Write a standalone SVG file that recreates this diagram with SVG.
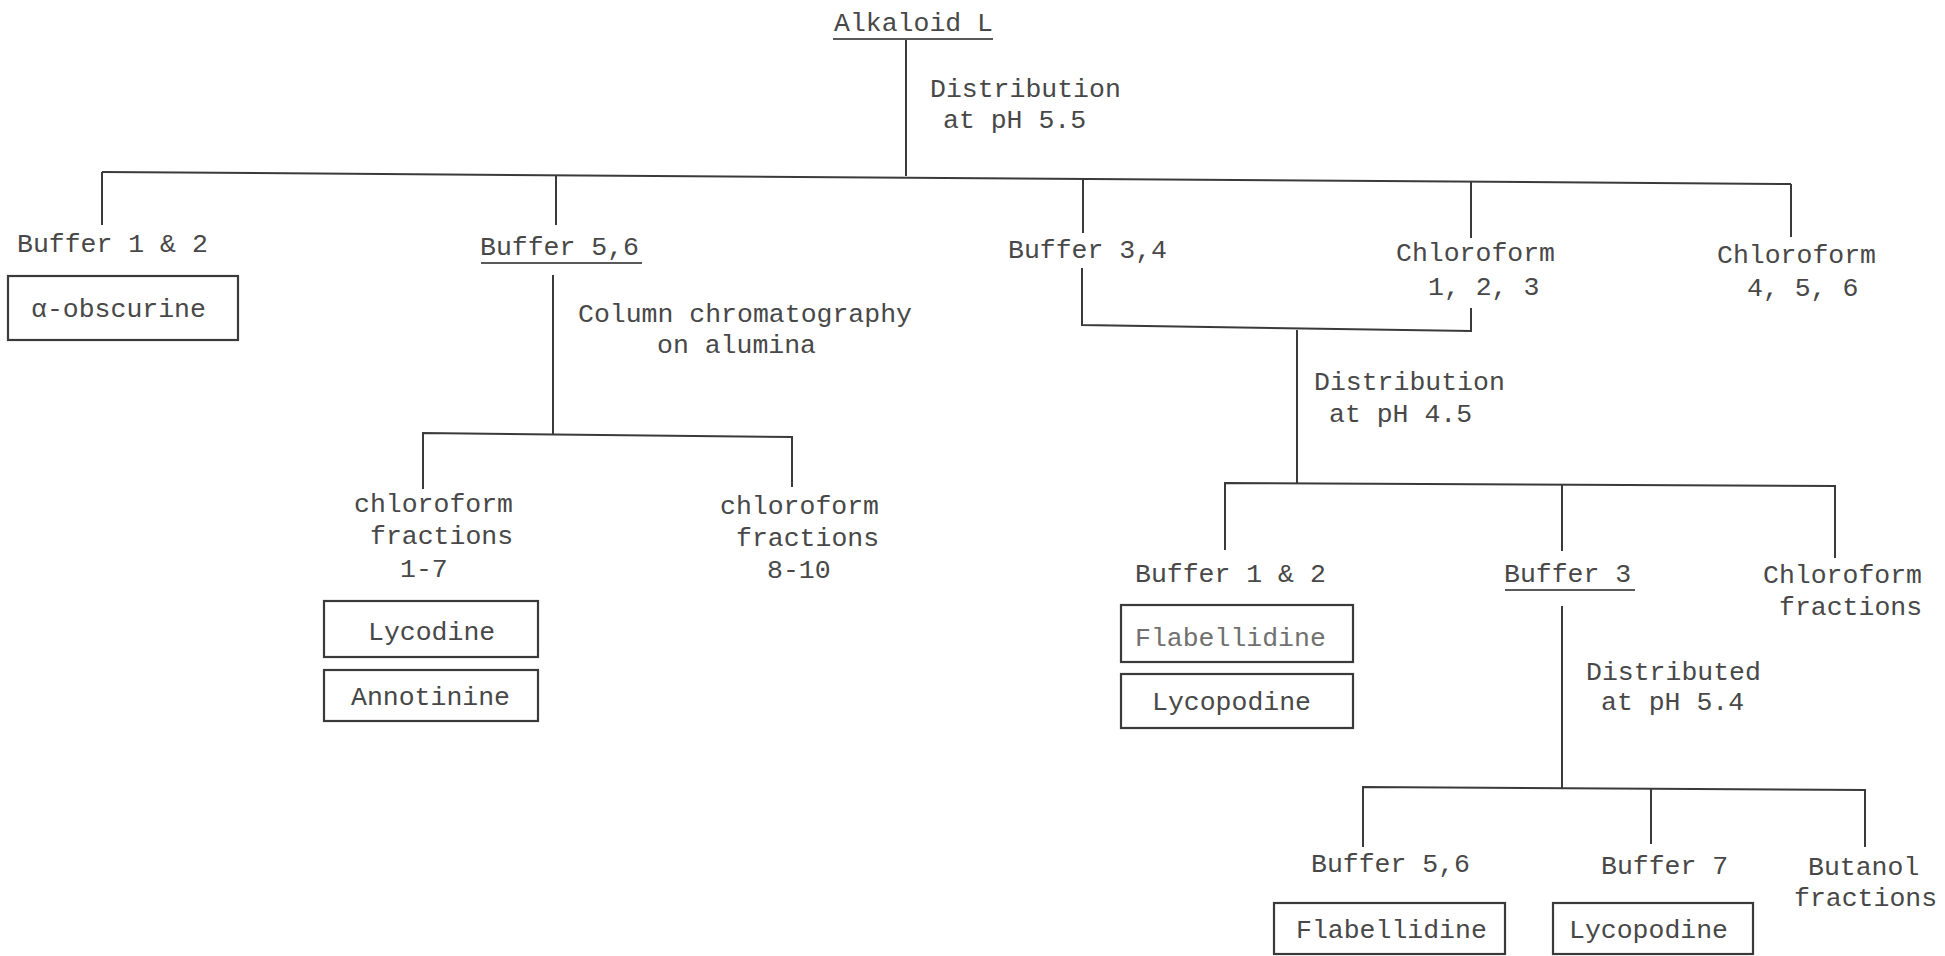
<svg xmlns="http://www.w3.org/2000/svg" width="1945" height="956" viewBox="0 0 1945 956">
<style>
  text { font-family: "Liberation Mono", "DejaVu Sans Mono", monospace; font-size: 26.5px; fill: #484848; }
  .ln { stroke: #3a3a3a; stroke-width: 2; fill: none; }
  .ul { stroke: #5a5a5a; stroke-width: 2.2; fill: none; }
  .box { stroke: #3a3a3a; stroke-width: 2.2; fill: none; }
  .light { fill: #707070; }
</style>
<rect width="1945" height="956" fill="#ffffff"/>
<g id="connectors">
  <path class="ln" d="M906,40 V176"/>
  <path class="ln" d="M102,172 L1791,184"/>
  <path class="ln" d="M102,172 V225"/>
  <path class="ln" d="M556,175 V225"/>
  <path class="ln" d="M1083,179 V233"/>
  <path class="ln" d="M1471,181 V238"/>
  <path class="ln" d="M1791,184 V237"/>
  <path class="ln" d="M553,275 V434"/>
  <path class="ln" d="M423,489 V433 L792,437 V487"/>
  <path class="ln" d="M1082,268 V325 L1471,331 V308"/>
  <path class="ln" d="M1297,330 V484"/>
  <path class="ln" d="M1225,550 V483 L1835,486 V558"/>
  <path class="ln" d="M1562,485 V551"/>
  <path class="ln" d="M1562,606 V789"/>
  <path class="ln" d="M1363,847 V787 L1865,790 V847"/>
  <path class="ln" d="M1651,789 V844"/>
</g>
<g id="alkaloid-l">
  <text x="834" y="31">Alkaloid L</text>
  <path class="ul" d="M833,39 H993"/>
</g>
<g id="label-ph55">
  <text x="930" y="97">Distribution</text>
  <text x="943" y="128">at pH 5.5</text>
</g>
<g id="buffer-1-2">
  <text x="17" y="252">Buffer 1 &amp; 2</text>
</g>
<g id="alpha-obscurine">
  <rect class="box" x="8" y="276" width="230" height="64"/>
  <text x="31" y="317">α-obscurine</text>
</g>
<g id="buffer-5-6">
  <text x="480" y="255">Buffer 5,6</text>
  <path class="ul" d="M481,263 H642"/>
</g>
<g id="label-column">
  <text x="578" y="322">Column chromatography</text>
  <text x="657" y="353">on alumina</text>
</g>
<g id="chloroform-1-7">
  <text x="354" y="512">chloroform</text>
  <text x="370" y="544">fractions</text>
  <text x="400" y="577">1-7</text>
</g>
<g id="lycodine">
  <rect class="box" x="324" y="601" width="214" height="56"/>
  <text x="368" y="640">Lycodine</text>
</g>
<g id="annotinine">
  <rect class="box" x="324" y="670" width="214" height="51"/>
  <text x="351" y="705">Annotinine</text>
</g>
<g id="chloroform-8-10">
  <text x="720" y="514">chloroform</text>
  <text x="736" y="546">fractions</text>
  <text x="767" y="578">8-10</text>
</g>
<g id="buffer-3-4">
  <text x="1008" y="258">Buffer 3,4</text>
</g>
<g id="chloroform-1-2-3">
  <text x="1396" y="261">Chloroform</text>
  <text x="1428" y="295">1, 2, 3</text>
</g>
<g id="chloroform-4-5-6">
  <text x="1717" y="263">Chloroform</text>
  <text x="1747" y="296">4, 5, 6</text>
</g>
<g id="label-ph45">
  <text x="1314" y="390">Distribution</text>
  <text x="1329" y="422">at pH 4.5</text>
</g>
<g id="buffer-1-2-b">
  <text x="1135" y="582">Buffer 1 &amp; 2</text>
</g>
<g id="flabellidine-a">
  <rect class="box" x="1121" y="605" width="232" height="57"/>
  <text class="light" x="1135" y="646">Flabellidine</text>
</g>
<g id="lycopodine-a">
  <rect class="box" x="1121" y="674" width="232" height="54"/>
  <text x="1152" y="710">Lycopodine</text>
</g>
<g id="buffer-3">
  <text x="1504" y="582">Buffer 3</text>
  <path class="ul" d="M1505,590 H1635"/>
</g>
<g id="chloroform-fractions">
  <text x="1763" y="583">Chloroform</text>
  <text x="1779" y="615">fractions</text>
</g>
<g id="label-ph54">
  <text x="1586" y="680">Distributed</text>
  <text x="1601" y="710">at pH 5.4</text>
</g>
<g id="buffer-5-6-b">
  <text x="1311" y="872">Buffer 5,6</text>
</g>
<g id="buffer-7">
  <text x="1601" y="874">Buffer 7</text>
</g>
<g id="butanol-fractions">
  <text x="1808" y="875">Butanol</text>
  <text x="1794" y="906">fractions</text>
</g>
<g id="flabellidine-b">
  <rect class="box" x="1274" y="903" width="231" height="51"/>
  <text x="1296" y="938">Flabellidine</text>
</g>
<g id="lycopodine-b">
  <rect class="box" x="1553" y="903" width="200" height="51"/>
  <text x="1569" y="938">Lycopodine</text>
</g>
</svg>
